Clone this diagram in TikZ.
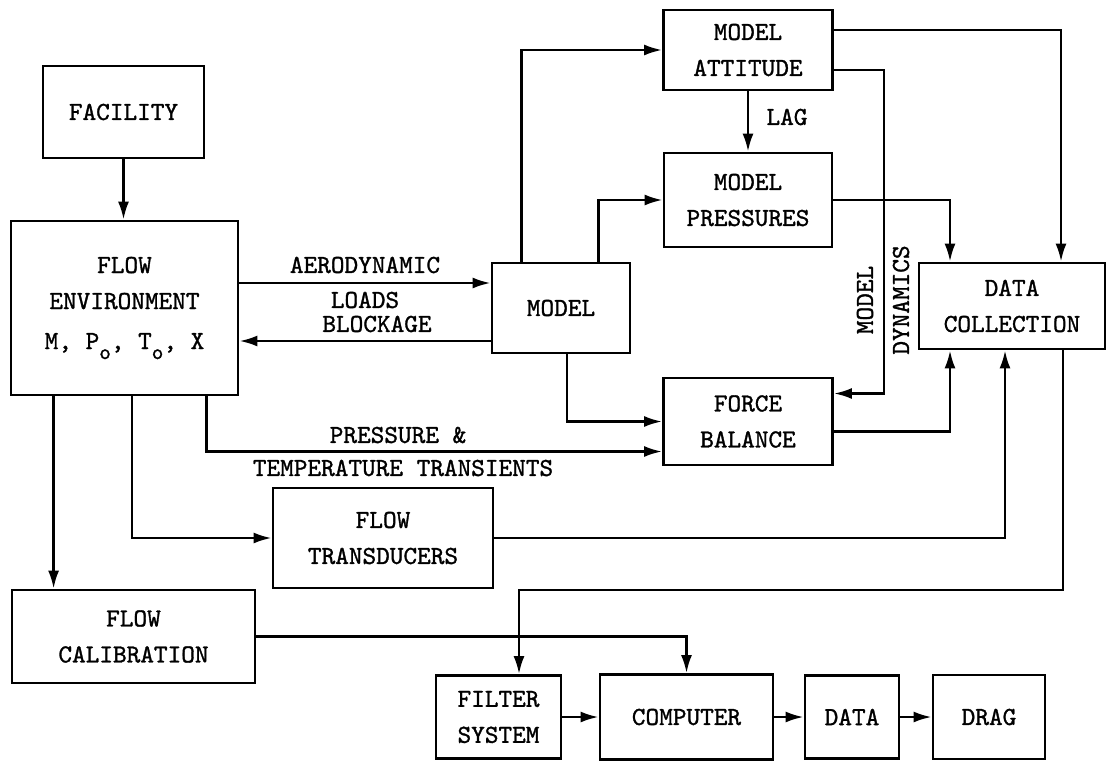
\documentclass[tikz,border=0pt]{standalone}
\usepackage{fontspec}
\usetikzlibrary{arrows.meta}

\newfontfamily\diagtt{lmmono10-regular}[Extension=.otf, FakeBold=1.2]
\newcommand{\diagfont}{\diagtt\fontsize{26}{36}\selectfont}
\newcommand{\lowo}{\raisebox{-10pt}{\fontsize{22}{22}\selectfont o}}

\tikzset{
  block/.style={draw, line width=2.8pt, align=center, inner sep=0pt, font=\diagfont},
  wire/.style={line width=2.5pt},
  feed/.style={wire, -{Latex[length=18pt,width=11pt]}},
  tag/.style={align=center, inner sep=0pt, font=\diagfont},
}

\begin{document}
\begin{tikzpicture}[x=1pt,y=-1pt]
    \useasboundingbox (0,0) rectangle (1115,768);

    % Blocks
    \node[block, minimum width=161pt, minimum height=92pt] (fac) at (123.5,112) {FACILITY};
    \node[block, minimum width=227pt, minimum height=174pt] (env) at (124.5,308)
        {FLOW\\ENVIRONMENT\\[4pt]M, P\lowo, T\lowo, X};
    \node[block, minimum width=138pt, minimum height=90pt] (model) at (561,308) {MODEL};
    \node[block, minimum width=169pt, minimum height=80pt] (ma) at (748,50) {MODEL\\ATTITUDE};
    \node[block, minimum width=168pt, minimum height=94pt] (mp) at (748,200) {MODEL\\PRESSURES};
    \node[block, minimum width=186pt, minimum height=86pt] (dc) at (1012,306) {DATA\\COLLECTION};
    \node[block, minimum width=169pt, minimum height=87pt] (fb) at (748,421.5) {FORCE\\BALANCE};
    \node[block, minimum width=220pt, minimum height=100pt] (ft) at (383,538) {FLOW\\TRANSDUCERS};
    \node[block, minimum width=243pt, minimum height=93pt] (fc) at (133.5,636.5) {FLOW\\CALIBRATION};
    \node[block, minimum width=125pt, minimum height=83pt] (filter) at (498.5,717) {FILTER\\SYSTEM};
    \node[block, minimum width=173pt, minimum height=85pt] (comp) at (686.5,717) {COMPUTER};
    \node[block, minimum width=94pt, minimum height=83pt] (data) at (852,717) {DATA};
    \node[block, minimum width=112pt, minimum height=84pt] (drag) at (989,717) {DRAG};

    % Connector labels
    \node[tag] (aerolbl) at (365,265) {AERODYNAMIC};
    \node[tag] (loadslbl) at (365,300) {LOADS};
    \node[tag] (blocklbl) at (377,324) {BLOCKAGE};
    \node[tag] (preslbl) at (398,435) {PRESSURE \&};
    \node[tag] (templbl) at (403,468) {TEMPERATURE TRANSIENTS};
    \node[tag] (laglbl) at (787,117) {LAG};
    \node[tag, rotate=90] (mdynlbl) at (883,300) {MODEL\\DYNAMICS};

    \coordinate (mdyn) at (884,300);
    \coordinate (dcout) at (519,590);

    % Facility and flow environment
    \draw[feed] (fac.south) -- (fac.south |- env.north);
    \draw[feed] ([yshift=25pt]env.east) -- ([yshift=25pt]model.west);
    \draw[feed] ([yshift=-33pt]model.west) -- ([yshift=-33pt]env.east);
    \draw[feed] ([xshift=-33pt]env.south east) |- ([yshift=-30pt]fb.west);
    \draw[feed] ([xshift=7.5pt]env.south) |- (ft.west);
    \draw[feed] ([xshift=44pt]env.south west) -- ([xshift=43pt]fc.north west);

    % Model branches
    \draw[feed] ([xshift=31pt]model.north west) |- (ma.west);
    \draw[feed] ([xshift=-33pt]model.north east) |- (mp.west);
    \draw[feed] ([xshift=6pt]model.south) |- (fb.west);
    \draw[feed] (ma.south) -- (ma.south |- mp.north);

    % Into data collection
    \draw[feed] ([yshift=20pt]ma.east) -| ([xshift=49pt]dc.north);
    \draw[feed] ([yshift=-20pt]ma.east) -| (mdyn) |- ([yshift=28pt]fb.east);
    \draw[feed] (mp.east) -| ([xshift=-62pt]dc.north);
    \draw[feed] ([yshift=-10pt]fb.east) -| ([xshift=-62pt]dc.south);
    \draw[feed] (ft.east) -| ([xshift=-7pt]dc.south);

    % Reduction chain
    \draw[feed] ([xshift=51pt]dc.south) |- (dcout) -- (dcout |- filter.north);
    \draw[feed] (fc.east) -| (comp.north);
    \draw[feed] (filter.east) -- (comp.west);
    \draw[feed] (comp.east) -- (data.west);
    \draw[feed] (data.east) -- (drag.west);
\end{tikzpicture}
\end{document}
